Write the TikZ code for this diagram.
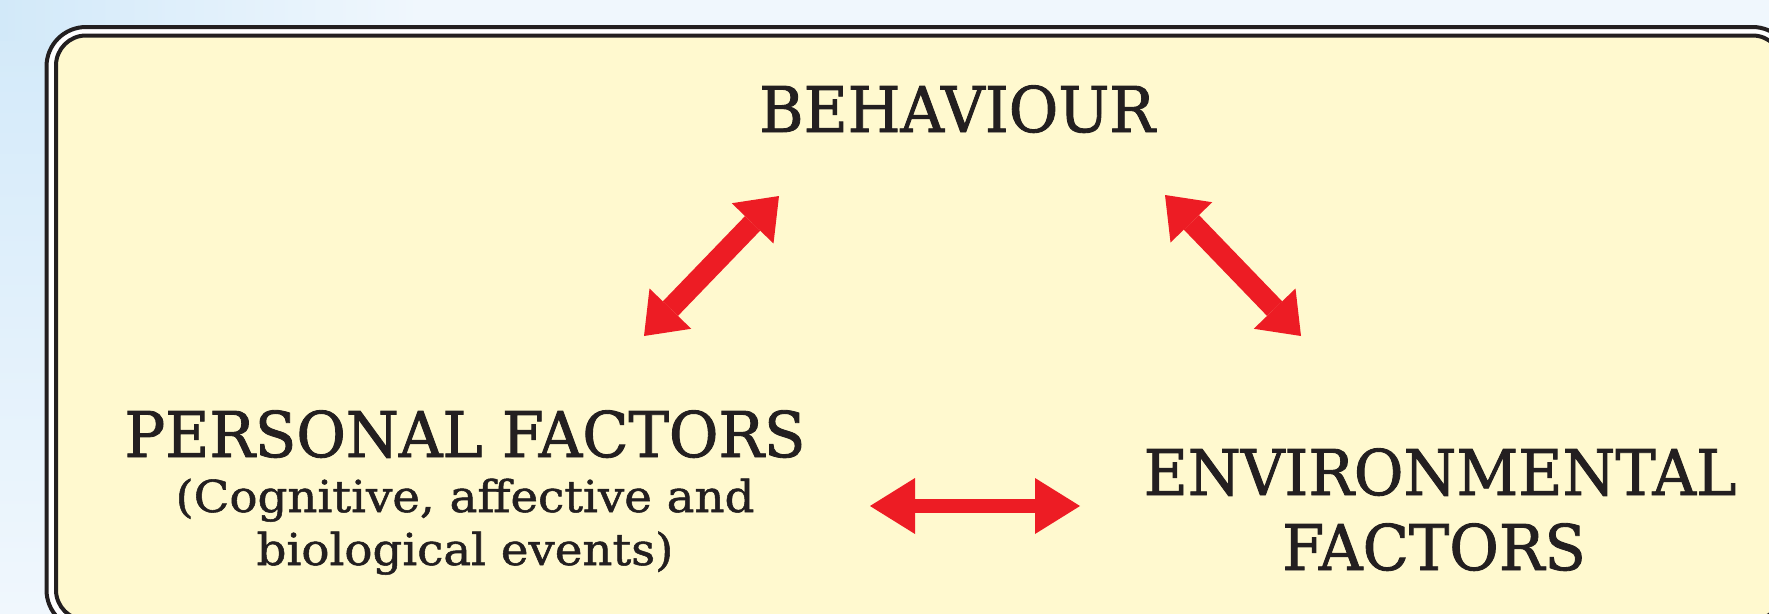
\documentclass[tikz,border=0pt]{standalone}
\usepackage{fontspec}
\setmainfont{DejaVu Serif}
\newfontfamily\slab[FakeStretch=0.96,FakeBold=1.4]{DejaVu Serif}
\newfontfamily\slabsub[FakeStretch=1.06,FakeBold=1.2]{DejaVu Serif}
\usetikzlibrary{arrows.meta}
\definecolor{ink}{HTML}{231F20}
\definecolor{arrowred}{HTML}{ED1C24}
\definecolor{cream}{HTML}{FFF9CF}
\definecolor{skyA}{RGB}{210,233,249}
\definecolor{skyB}{RGB}{240,247,253}
\begin{document}
\begin{tikzpicture}[x=1pt,y=-1pt,
  bigtitle/.style={text=ink, font=\slab\fontsize{63}{70}\selectfont, anchor=base, inner sep=0pt},
  subtitle/.style={text=ink, font=\slabsub\fontsize{44}{48}\selectfont, anchor=base, inner sep=0pt},
  diagtip/.tip={Triangle[length=38pt,width=58pt,line width=0pt]},
  flattip/.tip={Triangle[length=45pt,width=56pt,line width=0pt]},
  diagarrow/.style={draw=arrowred, line width=21pt, diagtip-diagtip},
  flatarrow/.style={draw=arrowred, line width=14pt, flattip-flattip},
  framebox/.style={draw=ink, line width=4pt}
]
\useasboundingbox (0,0) rectangle (1769,613);
\fill[skyB] (0,0) rectangle (1769,613);
\shade[top color=skyA, bottom color=skyB] (0,0) rectangle (60,613);
\shade[left color=skyA, right color=skyB] (0,0) rectangle (420,40);
\draw[framebox, fill=white, rounded corners=39.5pt] (46.5,27) rectangle (1792,629.5);
\draw[framebox, fill=cream, rounded corners=30pt] (56,35.5) rectangle (1782.5,620);

\node[bigtitle] (behaviour) at (957,132) {BEHAVIOUR};
\node[bigtitle] (personal) at (465,457) {PERSONAL FACTORS};
\node[subtitle] (personalA) at (465,512) {(Cognitive, affective and};
\node[subtitle] (personalB) at (465,565) {biological events)};
\node[bigtitle] (envA) at (1440,495) {ENVIRONMENTAL};
\node[bigtitle] (envB) at (1434,570) {FACTORS};

\coordinate (pbLow) at (644,336);
\coordinate (pbHigh) at (779,196);
\coordinate (beHigh) at (1165,195);
\coordinate (beLow) at (1301,336);
\coordinate (peLeft) at (870,506);
\coordinate (peRight) at (1080,506);

\draw[diagarrow] (pbLow) -- (pbHigh);
\draw[diagarrow] (beHigh) -- (beLow);
\draw[flatarrow] (peLeft) -- (peRight);
\end{tikzpicture}
\end{document}
